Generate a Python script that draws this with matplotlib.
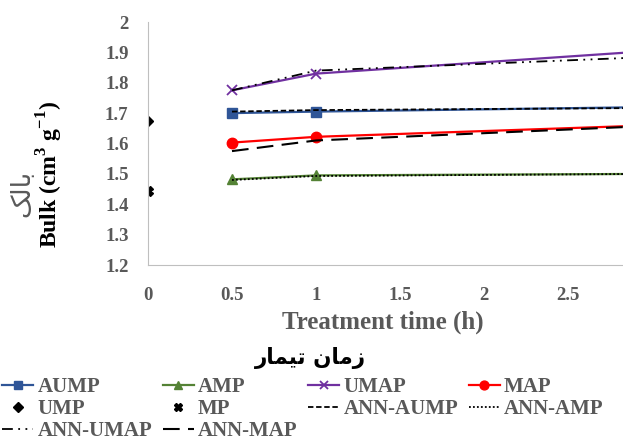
import matplotlib
matplotlib.use("Agg")
import matplotlib.pyplot as plt

plt.rcParams['font.family'] = ['Liberation Serif', 'DejaVu Sans']
plt.rcParams['mathtext.fontset'] = 'custom'
plt.rcParams['mathtext.rm'] = 'Liberation Serif:bold'
plt.rcParams['mathtext.bf'] = 'Liberation Serif:bold'

# data
t = [0.5, 1, 3]
aump = [1.700, 1.705, 1.720]
amp = [1.482, 1.495, 1.500]
umap = [1.775, 1.830, 1.905]
map_ = [1.603, 1.622, 1.660]
ann_aump = [1.705, 1.710, 1.717]
ann_amp = [1.480, 1.493, 1.500]
ann_umap = [1.775, 1.840, 1.885]
ann_map = [1.575, 1.610, 1.658]
t0 = [0]
ump = [1.675]
mp = [1.442]

yticks = [1.2, 1.3, 1.4, 1.5, 1.6, 1.7, 1.8, 1.9, 2]
xticks = [0, 0.5, 1, 1.5, 2, 2.5]

gray = '#595959'
fig = plt.figure(figsize=(6.23, 4.41), dpi=100)
ax = fig.add_axes([148 / 623, 1 - 265 / 441, 1 - 148 / 623, 243 / 441])

ax.plot(t, aump, color='#2F5597', lw=1.6, marker='s', ms=6.5, label='AUMP')
ax.plot(t, amp, color='#548235', lw=1.6, marker='^', ms=7, label='AMP')
ax.plot(t, umap, color='#7030A0', lw=1.6, marker='x', ms=7, mew=1.3, label='UMAP')
ax.plot(t, map_, color='#FF0000', lw=1.6, marker='o', ms=7.5, label='MAP')
ax.plot(t0, ump, ls='none', color='black', marker='D', ms=5.5, label='UMP')
ax.plot(t0, mp, ls='none', color='black', marker='X', ms=7, label='MP')
ax.plot(t, ann_aump, color='black', lw=1.3, dashes=(3, 1.5), label='ANN-AUMP')
ax.plot(t, ann_amp, color='black', lw=1.3, dashes=(1, 1.2), label='ANN-AMP')
ax.plot(t, ann_umap, color='black', lw=1.3, dashes=(6, 3, 1, 3, 1, 3), label='ANN-UMAP')
ax.plot(t, ann_map, color='black', lw=1.5, dashes=(8, 4), label='ANN-MAP')

ax.set_xlim(0, (623 - 148) / 168)
ax.set_ylim(1.2, 2.0)
ax.set_xticks(xticks)
ax.set_xticklabels(['0', '0.5', '1', '1.5', '2', '2.5'])
ax.set_yticks(yticks)
ax.set_yticklabels(['1.2', '1.3', '1.4', '1.5', '1.6', '1.7', '1.8', '1.9', '2'])
ax.tick_params(length=0, labelsize=13.5, labelcolor=gray)
ax.tick_params(axis='y', pad=14)
ax.tick_params(axis='x', pad=16)
for lab in ax.get_xticklabels() + ax.get_yticklabels():
    lab.set_fontweight('bold')
for s in ['top', 'right']:
    ax.spines[s].set_visible(False)
for s in ['left', 'bottom']:
    ax.spines[s].set_color('#BFBFBF')
    ax.spines[s].set_linestyle((0, (1, 1)))
    ax.spines[s].set_linewidth(0.8)

fig.text(383 / 623, 1 - 322 / 441, 'Treatment time (h)', ha='center', va='center',
         fontsize=18, fontweight='bold', color=gray)
# Persian labels written in visual order with presentation forms
fig.text(310 / 623, 1 - 358 / 441, '\uFEAD\uFE8E\uFEE4\uFEF4\uFE97 \uFEE5\uFE8E\uFEE3\uFEAF',
         ha='center', va='center', fontsize=15.5, fontweight='bold', color='black',
         family=['DejaVu Sans'])
fig.text(50 / 623, 1 - 175 / 441, 'Bulk (cm$^{3}$ g$^{-1}$)', rotation=90,
         ha='center', va='center', fontsize=17, fontweight='bold', color='black')
fig.text(22 / 623, 1 - 193 / 441, '\uFB8F\uFEDF\uFE8E\uFE91', rotation=90,
         ha='center', va='center', fontsize=19, color=gray, family=['DejaVu Sans'])

h, l = ax.get_legend_handles_labels()
order = ['AUMP', 'UMP', 'ANN-UMAP', 'AMP', 'MP', 'ANN-MAP', 'UMAP', 'ANN-AUMP', 'MAP', 'ANN-AMP']
hs = [h[l.index(n)] for n in order]
leg = fig.legend(hs, order, ncol=4, loc='upper left', bbox_to_anchor=(0.0, 1 - 375 / 441),
                 frameon=False, fontsize=15, handlelength=1.5, handletextpad=0.2,
                 columnspacing=0.5, labelspacing=0.1, borderaxespad=0, borderpad=0.1,
                 numpoints=1, markerscale=0.85)
for txt in leg.get_texts():
    txt.set_color(gray)
    txt.set_fontweight('bold')

fig.savefig('out.png', dpi=100)
